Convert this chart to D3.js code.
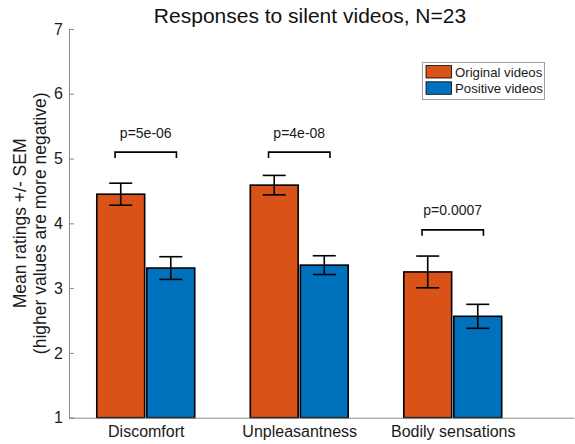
<!DOCTYPE html>
<html>
<head>
<meta charset="utf-8">
<script src="https://cdn.jsdelivr.net/npm/d3@7"></script>
<style>
  html, body { margin: 0; padding: 0; background: #fff; }
  svg { display: block; font-family: Helvetica, Arial, "Liberation Sans", sans-serif; }
</style>
</head>
<body>
<svg id="chart" width="575" height="444"></svg>
<script>
// Mean ratings per condition, with standard errors
const categories = ["Discomfort", "Unpleasantness", "Bodily sensations"];
const originalMeans = [4.45, 4.59, 3.25];
const originalSem = [0.17, 0.15, 0.245];
const positiveMeans = [3.31, 3.355, 2.565];
const positiveSem = [0.175, 0.145, 0.185];
const seriesNames = ["Original videos", "Positive videos"];
const pLabels = ["p=5e-06", "p=4e-08", "p=0.0007"];
const bracketLevels = [5.1, 5.1, 3.9];
const yTicks = [1, 2, 3, 4, 5, 6, 7];

const colors = ["#D95319", "#0072BD"];
const axisGray = "#8c8c8c";

const svg = d3.select("#chart");

const x = d3.scaleLinear().domain([0.5, 3.79]).range([69, 574]);
const y = d3.scaleLinear().domain([1, 7]).range([417.7, 29]);

const unit = x(1) - x(0);
const barW = 0.312 * unit;
const offsets = [-0.163, 0.163];

const series = [
  { name: seriesNames[0], means: originalMeans, sem: originalSem, color: colors[0], off: offsets[0] },
  { name: seriesNames[1], means: positiveMeans, sem: positiveSem, color: colors[1], off: offsets[1] }
];

// Axes (left and bottom only)
const yAxis = d3.axisRight(y).tickValues(yTicks).tickSize(5).tickFormat(d3.format("d"));
const gy = svg.append("g").attr("transform", `translate(${x(0.5)},0)`).call(yAxis);
gy.select(".domain").attr("stroke", axisGray);
gy.selectAll(".tick line").attr("stroke", axisGray);
gy.selectAll(".tick text")
  .attr("x", -6).attr("text-anchor", "end")
  .attr("font-size", 16).attr("fill", "#1a1a1a")
  .attr("font-family", "Helvetica, Arial, 'Liberation Sans', sans-serif");

// Bars
series.forEach(s => {
  svg.append("g").selectAll("rect")
    .data(s.means)
    .join("rect")
    .attr("x", (d, i) => x(i + 1 + s.off) - barW / 2)
    .attr("y", d => y(d))
    .attr("width", barW)
    .attr("height", d => y(1) - y(d))
    .attr("fill", s.color)
    .attr("stroke", "#000")
    .attr("stroke-width", 1.6);
});

// Bottom axis, drawn over the bar bases
const xAxis = d3.axisBottom(x).tickValues([1, 2, 3]).tickSize(0)
  .tickFormat((d) => categories[d - 1]);
const gx = svg.append("g").attr("transform", `translate(0,${y(1)})`).call(xAxis);
gx.select(".domain").attr("stroke", axisGray);
gx.selectAll(".tick text")
  .attr("y", 19.5).attr("dy", 0)
  .attr("font-size", 16).attr("fill", "#1a1a1a")
  .attr("font-family", "Helvetica, Arial, 'Liberation Sans', sans-serif");

// Error bars (mean +/- SEM)
const capHalf = 11.5;
series.forEach(s => {
  const g = svg.append("g").attr("stroke", "#000").attr("stroke-width", 1.6).attr("fill", "none");
  s.means.forEach((m, i) => {
    const cx = x(i + 1 + s.off);
    const top = y(m + s.sem[i]);
    const bot = y(m - s.sem[i]);
    g.append("line").attr("x1", cx).attr("x2", cx).attr("y1", top).attr("y2", bot);
    g.append("line").attr("x1", cx - capHalf).attr("x2", cx + capHalf).attr("y1", top).attr("y2", top);
    g.append("line").attr("x1", cx - capHalf).attr("x2", cx + capHalf).attr("y1", bot).attr("y2", bot);
  });
});

// Significance brackets with p-values
const bracketHalf = 0.2;
const bracketDrop = 0.09;
bracketLevels.forEach((lvl, i) => {
  const c = i + 1;
  const path = d3.path();
  path.moveTo(x(c - bracketHalf), y(lvl - bracketDrop));
  path.lineTo(x(c - bracketHalf), y(lvl));
  path.lineTo(x(c + bracketHalf), y(lvl));
  path.lineTo(x(c + bracketHalf), y(lvl - bracketDrop));
  svg.append("path").attr("d", path.toString())
    .attr("fill", "none").attr("stroke", "#000").attr("stroke-width", 1.6);
  svg.append("text")
    .attr("x", x(c)).attr("y", y(lvl) - 14.5)
    .attr("text-anchor", "middle").attr("font-size", 14).attr("fill", "#1a1a1a")
    .text(pLabels[i]);
});

// Legend
const legend = svg.append("g").attr("transform", "translate(422,62)");
legend.append("rect").attr("x", 0.5).attr("y", 0.5).attr("width", 122).attr("height", 37)
  .attr("fill", "#fff").attr("stroke", "#a0a0a0").attr("stroke-width", 1);
series.forEach((s, i) => {
  legend.append("rect")
    .attr("x", 4).attr("y", 3.5 + i * 16.3).attr("width", 25.5).attr("height", 12.5)
    .attr("fill", s.color).attr("stroke", "#000").attr("stroke-width", 0.8);
  legend.append("text")
    .attr("x", 33).attr("y", 14.5 + i * 16.3)
    .attr("font-size", 13.2).attr("fill", "#1a1a1a")
    .text(s.name);
});

// Title
svg.append("text")
  .attr("x", 310).attr("y", 23)
  .attr("text-anchor", "middle").attr("font-size", 21).attr("fill", "#111")
  .text("Responses to silent videos, N=23");

// Y axis label (two lines)
const ylab = svg.append("text")
  .attr("transform", `translate(26,${(y(1) + y(7)) / 2}) rotate(-90)`)
  .attr("text-anchor", "middle").attr("font-size", 17.5).attr("fill", "#1a1a1a");
ylab.append("tspan").attr("x", 0).attr("dy", 0).text("Mean ratings +/- SEM");
ylab.append("tspan").attr("x", 0).attr("dy", 20).text("(higher values are more negative)");
</script>
</body>
</html>
